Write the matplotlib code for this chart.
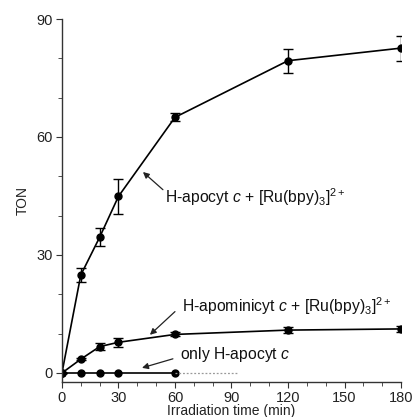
import matplotlib
matplotlib.use("Agg")
import matplotlib.pyplot as plt
from matplotlib.ticker import MultipleLocator

plt.rcParams['font.family'] = ['Liberation Sans', 'DejaVu Sans']
plt.rcParams['mathtext.fontset'] = 'custom'
plt.rcParams['mathtext.rm'] = 'Liberation Sans'
plt.rcParams['mathtext.it'] = 'Liberation Sans:italic'
plt.rcParams['mathtext.bf'] = 'Liberation Sans:bold'

time = [0, 10, 20, 30, 60, 120, 180]
ton_apocyt_ru = [0, 24.9, 34.5, 44.9, 65.0, 79.4, 82.6]
err_apocyt_ru = [0, 1.8, 2.3, 4.4, 1.0, 3.0, 3.2]
ton_apomini_ru = [0, 3.5, 6.7, 7.8, 9.8, 10.9, 11.2]
err_apomini_ru = [0, 0.3, 0.8, 1.2, 0.5, 0.7, 0.8]
time_only = [0, 10, 20, 30, 60]
ton_only = [0, 0, 0, 0, 0]
time_only_dotted = [60, 93]
ton_only_dotted = [0, 0]

fig = plt.figure(figsize=(4.13, 4.17), dpi=100)
ax = fig.add_axes([0.150, 0.0839, 0.821, 0.8705])

kw = dict(color='black', marker='o', markersize=5, linewidth=1.2,
          ecolor='black', elinewidth=1.0, capsize=3.5, capthick=1.0)
ax.errorbar(time, ton_apocyt_ru, yerr=err_apocyt_ru, **kw)
ax.errorbar(time, ton_apomini_ru, yerr=err_apomini_ru, **kw)
ax.plot(time_only, ton_only, color='black', marker='o', markersize=5, linewidth=1.2)
ax.plot(time_only_dotted, ton_only_dotted, color='#999999', linestyle=(0, (1.5, 1.5)), linewidth=0.9)

ax.set_xlim(0, 180)
ax.set_ylim(-2.3, 90)
ax.xaxis.set_major_locator(MultipleLocator(30))
ax.xaxis.set_minor_locator(MultipleLocator(10))
ax.set_yticks([0, 30, 60, 90])
ax.set_yticks([10, 20, 40, 50, 70, 80], minor=True)

for s in ['top', 'right']:
    ax.spines[s].set_visible(False)
for s in ['left', 'bottom']:
    ax.spines[s].set_linewidth(1.0)
    ax.spines[s].set_color('#333333')
ax.tick_params(which='both', direction='out', colors='#333333', labelcolor='#222222', labelsize=10.5)
ax.tick_params(which='major', length=4, pad=2.5)
ax.tick_params(which='minor', length=3)

ax.set_xlabel('Irradiation time (min)', fontsize=10, color='#222222', labelpad=-1)
ax.set_ylabel('TON', fontsize=10, color='#222222', labelpad=5)

fs = 11.3
tcol = '#111111'
ax.text(54.7, 44.8, 'H-apocyt $c$ + [Ru(bpy)$_3$]$^{2+}$', fontsize=fs, va='center', ha='left', color=tcol)
ax.text(63.6, 16.9, 'H-apominicyt $c$ + [Ru(bpy)$_3$]$^{2+}$', fontsize=fs, va='center', ha='left', color=tcol)
ax.text(62.7, 4.8, 'only H-apocyt $c$', fontsize=fs, va='center', ha='left', color=tcol)

arrows = [((53.6, 46.6), (43.0, 51.1)),
          ((60.0, 15.6), (46.7, 9.7)),
          ((58.9, 3.6), (42.5, 1.3))]
for tail, head in arrows:
    ax.annotate('', xy=head, xytext=tail,
                arrowprops=dict(arrowstyle='-|>', color='#222222', lw=0.9, mutation_scale=9,
                                shrinkA=0, shrinkB=0))

fig.savefig('out.png', dpi=100)
